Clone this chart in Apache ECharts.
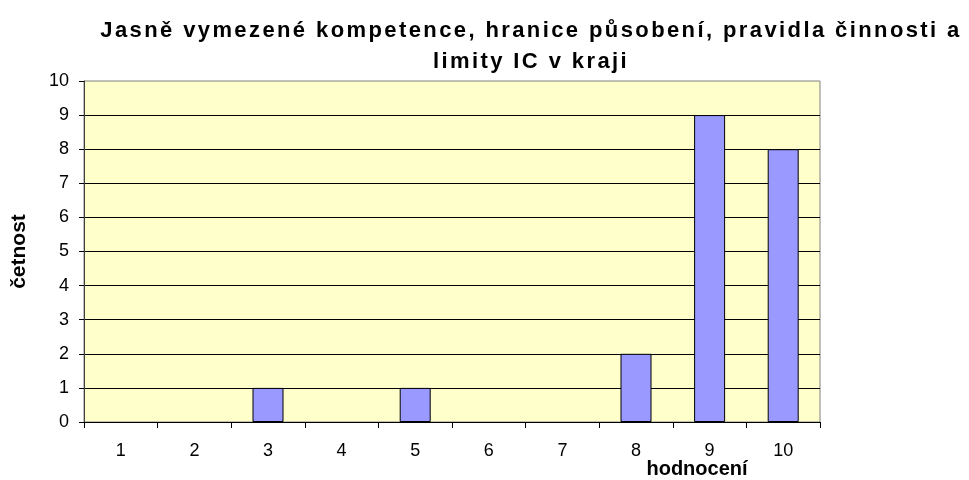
<!doctype html>
<html lang="cs">
<head>
<meta charset="UTF-8">
<title>hodnocení</title>
<script src="https://cdn.jsdelivr.net/npm/echarts@6/dist/echarts.min.js"></script>
<style>
  html, body { margin: 0; padding: 0; background: #fff; }
</style>
</head>
<body>
<div id="chart" style="width: 969px; height: 480px;"></div>
<script type="text/javascript">
    // data
    let categories = ['1', '2', '3', '4', '5', '6', '7', '8', '9', '10'];
    let counts = [0, 0, 1, 0, 1, 0, 0, 2, 9, 8];
    let yTicks = [0, 1, 2, 3, 4, 5, 6, 7, 8, 9, 10];

    // the original title is set with wide letter spacing, give long lines a bit of it
    let origFillText = CanvasRenderingContext2D.prototype.fillText;
    CanvasRenderingContext2D.prototype.fillText = function (text) {
        this.letterSpacing = String(text).length > 12 ? '2.4px' : '0px';
        return origFillText.apply(this, arguments);
    };

    let font = 'Liberation Sans, Arial, sans-serif';
    let barData = counts.map(function (v) {
        // empty categories get no outline
        return { value: v, itemStyle: { borderWidth: v ? 1 : 0 } };
    });

    let chart = echarts.init(document.getElementById('chart'));
    chart.setOption({
        animation: false,
        title: {
            text: 'Jasně vymezené kompetence, hranice působení, pravidla činnosti a\nlimity IC v kraji',
            left: 526,
            top: 10,
            textAlign: 'center',
            textStyle: {
                fontFamily: font,
                fontSize: 22,
                fontWeight: 'bold',
                color: '#000',
                lineHeight: 31
            }
        },
        grid: {
            left: 84,
            right: 149,
            top: 81,
            bottom: 58,
            containLabel: false,
            outerBoundsMode: 'none',
            show: true,
            backgroundColor: '#FFFFCC',
            borderColor: '#808080',
            borderWidth: 1
        },
        xAxis: {
            type: 'category',
            data: categories,
            name: 'hodnocení',
            nameLocation: 'middle',
            nameGap: 37,
            nameMoveOverlap: false,
            nameTextStyle: {
                fontFamily: font,
                fontSize: 20,
                fontWeight: 'bold',
                color: '#000',
                padding: [0, 0, 0, 490]
            },
            axisLine: { lineStyle: { color: '#000', width: 1 } },
            axisTick: { show: true, length: 6, lineStyle: { color: '#000' } },
            axisLabel: {
                fontFamily: font,
                fontSize: 18,
                color: '#000',
                margin: 20
            },
            splitLine: { show: false }
        },
        yAxis: {
            type: 'value',
            min: yTicks[0],
            max: yTicks[yTicks.length - 1],
            interval: 1,
            name: 'četnost',
            nameLocation: 'middle',
            nameGap: 54,
            nameRotate: 90,
            nameMoveOverlap: false,
            nameTextStyle: {
                fontFamily: font,
                fontSize: 21,
                fontWeight: 'bold',
                color: '#000'
            },
            axisLine: { show: true, lineStyle: { color: '#404040', width: 1 } },
            axisTick: { show: true, length: 5, lineStyle: { color: '#000' } },
            axisLabel: {
                fontFamily: font,
                fontSize: 18,
                color: '#000',
                margin: 15
            },
            splitLine: { show: true, showMaxLine: false, lineStyle: { color: '#000', width: 1 } }
        },
        series: [{
            name: 'četnost',
            type: 'bar',
            data: barData,
            barWidth: 31,
            itemStyle: {
                color: '#9999FF',
                borderColor: '#000',
                borderWidth: 1
            }
        }]
    });
</script>
</body>
</html>
